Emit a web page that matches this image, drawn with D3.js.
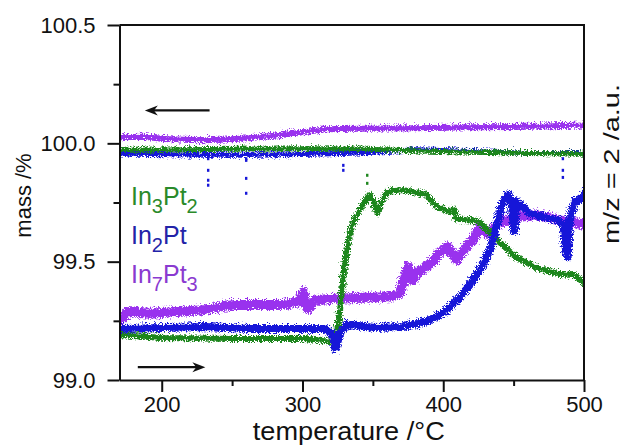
<!DOCTYPE html>
<html>
<head>
<meta charset="utf-8">
<script src="https://cdn.jsdelivr.net/npm/d3@7"></script>
<style>
  body { margin: 0; background: #fff; }
  svg { display: block; }
  text { font-family: "Liberation Sans", Arial, Helvetica, sans-serif; fill: #111; }
</style>
</head>
<body>
<svg id="chart" width="624" height="445"></svg>
<script>
// ---- data: thermogravimetry (mass, left axis) and m/z = 2 signal (right axis, a.u.) ----
const tempDomain = [170, 500];
const massDomain = [99.0, 100.5];
const msDomain = [0, 10];

const xMajorTicks = [200, 300, 400, 500];
const xMinorTicks = [250, 350, 450];
const yMajorTicks = [99.0, 99.5, 100.0, 100.5];
const yMinorTicks = [99.25, 99.75, 100.25];

const seriesNames = ["In3Pt2", "In2Pt", "In7Pt3"];
const seriesColors = ["#1e861e", "#1717d8", "#9933ee"];
const labelColors = ["#2a8a2a", "#2323a8", "#8a3ad0"];

// mass / % vs temperature / °C
const massIn7Pt3 = [[170,100.034],[185,100.036],[200,100.027],[215,100.024],[230,100.021],[245,100.025],
  [260,100.030],[275,100.038],[290,100.048],[305,100.060],[315,100.068],[340,100.070],[380,100.072],
  [420,100.076],[460,100.078],[500,100.084]];
const massIn3Pt2 = [[170,99.979],[200,99.980],[250,99.983],[300,99.986],[340,99.985],[380,99.976],
  [420,99.971],[460,99.966],[500,99.962]];
const massIn2Pt = [[170,99.963],[200,99.960],[230,99.958],[260,99.958],[290,99.960],[340,99.968],
  [380,99.981],[420,99.974],[460,99.966],[495,99.965]];

// isolated low readings in the mass traces
const massDipsIn2Pt = [[233,99.935],[233,99.886],[233,99.844],[233,99.823],[260,99.935],[260,99.928],
  [260,99.852],[260,99.789],[329,99.907],[329,99.886],[485,99.935],[485,99.886],[485,99.856]];
const massDipsIn3Pt2 = [[346,99.865],[346,99.831]];

// m/z = 2 ion signal / a.u.
const msIn3Pt2 = [[170,1.32],[200,1.24],[250,1.21],[300,1.21],[320,1.13],[322,1.10],[325,1.89],[328,3.10],
  [331,3.86],[334,4.42],[340,4.87],[346,5.27],[349,5.10],[352,4.75],[355,5.05],[359,5.35],[370,5.41],
  [387,5.27],[392,4.99],[402,4.79],[406,4.87],[408,4.59],[424,4.51],[437,4.00],[450,3.52],[467,3.18],
  [481,3.04],[492,3.01],[496,2.87],[500,2.73]];
const msIn2Pt = [[170,1.49],[200,1.52],[230,1.55],[260,1.49],[290,1.49],[315,1.49],[320,1.35],[322,0.93],
  [326,1.41],[330,1.61],[350,1.52],[370,1.55],[380,1.63],[390,1.75],[400,1.97],[412,2.45],[425,3.15],
  [432,3.72],[437,4.45],[441,5.07],[445,5.27],[447,5.13],[449,4.25],[451,5.07],[455,4.93],[460,4.73],
  [470,4.65],[480,4.56],[484,4.45],[486,3.66],[487,3.52],[489,4.65],[492,5.07],[496,5.13],[500,5.35]];
const msIn7Pt3 = [[170,1.77],[175,1.97],[190,1.92],[210,1.97],[230,2.03],[250,2.17],[270,2.17],[285,2.17],
  [296,2.25],[299,2.54],[301,2.20],[303,2.06],[308,2.31],[320,2.34],[340,2.37],[360,2.39],[368,2.48],
  [371,2.96],[374,3.24],[377,2.87],[381,3.10],[386,3.21],[392,3.44],[397,3.66],[402,3.80],[408,3.44],
  [415,3.80],[420,4.00],[425,4.37],[430,4.17],[438,4.45],[450,4.65],[465,4.70],[480,4.56],[490,4.51],
  [500,4.42]];

// heating direction arrows (temperature from/to, mass level)
const arrowMassLoss = { from: 234, to: 188, level: 100.139 };
const arrowHeating = { from: 183, to: 231, level: 99.054 };

// ---- layout ----
const svg = d3.select("#chart");
const plot = { left: 119.5, right: 584, top: 25, bottom: 380 };

const x = d3.scaleLinear(tempDomain, [plot.left, plot.right]);
const yMass = d3.scaleLinear(massDomain, [plot.bottom, plot.top]);
const yMs = d3.scaleLinear(msDomain, [plot.bottom, plot.top]);

const defs = svg.append("defs");
defs.append("clipPath").attr("id", "clip")
  .append("rect")
  .attr("x", plot.left).attr("y", plot.top)
  .attr("width", plot.right - plot.left).attr("height", plot.bottom - plot.top);

// grainy scatter look of the densely sampled measurement traces
const jitter = defs.append("filter").attr("id", "jitter")
  .attr("filterUnits", "userSpaceOnUse")
  .attr("x", 0).attr("y", 0).attr("width", 624).attr("height", 445);
jitter.append("feTurbulence")
  .attr("type", "turbulence").attr("baseFrequency", "0.55 0.8")
  .attr("numOctaves", 2).attr("seed", 7).attr("result", "noise");
jitter.append("feDisplacementMap")
  .attr("in", "SourceGraphic").attr("in2", "noise")
  .attr("scale", 7).attr("xChannelSelector", "R").attr("yChannelSelector", "G");

const clipped = svg.append("g").attr("clip-path", "url(#clip)");
const traces = clipped.append("g").attr("filter", "url(#jitter)");

function drawTrace(data, yScale, color, width) {
  const line = d3.line().x(d => x(d[0])).y(d => yScale(d[1]));
  traces.append("path")
    .datum(data)
    .attr("d", line)
    .attr("fill", "none")
    .attr("stroke", color)
    .attr("stroke-width", width)
    .attr("stroke-linejoin", "round")
    .attr("stroke-linecap", "round");
}

function drawDots(data, yScale, color) {
  clipped.selectAll(null).data(data).enter().append("rect")
    .attr("x", d => x(d[0]) - 1.2).attr("y", d => yScale(d[1]) - 1.5)
    .attr("width", 2.4).attr("height", 3).attr("fill", color);
}

// m/z = 2 traces
drawTrace(msIn7Pt3, yMs, seriesColors[2], 10);
drawTrace(msIn3Pt2, yMs, seriesColors[0], 6);
drawTrace(msIn2Pt, yMs, seriesColors[1], 8);

// mass traces
drawTrace(massIn2Pt, yMass, seriesColors[1], 5);
drawTrace(massIn3Pt2, yMass, seriesColors[0], 5);
drawTrace(massIn7Pt3, yMass, seriesColors[2], 6);
drawDots(massDipsIn2Pt, yMass, seriesColors[1]);
drawDots(massDipsIn3Pt2, yMass, seriesColors[0]);

// ---- axes ----
const axisFont = 22;

svg.append("g").attr("transform", `translate(0,${plot.bottom})`)
  .call(d3.axisBottom(x).tickValues(xMajorTicks).tickSize(12).tickSizeOuter(0).tickPadding(4)
    .tickFormat(d3.format("d")));
svg.append("g").attr("transform", `translate(0,${plot.bottom})`)
  .call(d3.axisBottom(x).tickValues(xMinorTicks).tickSize(6).tickSizeOuter(0).tickFormat(""))
  .select(".domain").remove();

svg.append("g").attr("transform", `translate(${plot.left},0)`)
  .call(d3.axisLeft(yMass).tickValues(yMajorTicks).tickSize(12).tickSizeOuter(0).tickPadding(12)
    .tickFormat(d3.format(".1f")));
svg.append("g").attr("transform", `translate(${plot.left},0)`)
  .call(d3.axisLeft(yMass).tickValues(yMinorTicks).tickSize(6).tickSizeOuter(0).tickFormat(""))
  .select(".domain").remove();

svg.selectAll(".domain, .tick line").attr("stroke", "#111").attr("stroke-width", 2);
svg.selectAll(".tick text")
  .attr("font-size", axisFont)
  .attr("font-family", '"Liberation Sans", Arial, sans-serif')
  .attr("fill", "#222");

// frame (top and right)
svg.append("path")
  .attr("d", `M${plot.left},${plot.top}H${plot.right}V${plot.bottom}`)
  .attr("fill", "none").attr("stroke", "#111").attr("stroke-width", 2);

// axis titles
svg.append("text")
  .attr("x", (plot.left + plot.right) / 2 - 3).attr("y", 440)
  .attr("text-anchor", "middle").attr("font-size", 25)
  .attr("textLength", 192).attr("lengthAdjust", "spacingAndGlyphs")
  .text("temperature /°C");

svg.append("text")
  .attr("transform", `translate(31,${(plot.top + plot.bottom) / 2 - 7}) rotate(-90)`)
  .attr("text-anchor", "middle").attr("font-size", 22)
  .text("mass /%");

svg.append("text")
  .attr("transform", `translate(619,164) rotate(-90)`)
  .attr("text-anchor", "middle").attr("font-size", 22)
  .attr("textLength", 160).attr("lengthAdjust", "spacingAndGlyphs")
  .text("m/z = 2 /a.u.");

// ---- arrows ----
function drawArrow(a, yScale) {
  const x0 = x(a.from), x1 = x(a.to), yy = yScale(a.level);
  const dir = Math.sign(x1 - x0);
  const head = 13, half = 5;
  svg.append("line")
    .attr("x1", x0).attr("y1", yy).attr("x2", x1 - dir * head * 0.6).attr("y2", yy)
    .attr("stroke", "#111").attr("stroke-width", 2.2);
  svg.append("path")
    .attr("d", `M${x1},${yy}L${x1 - dir * head},${yy - half}L${x1 - dir * head * 0.7},${yy}L${x1 - dir * head},${yy + half}Z`)
    .attr("fill", "#111");
}
drawArrow(arrowMassLoss, yMass);
drawArrow(arrowHeating, yMass);

// ---- legend ----
const legendParts = [["In", "3", "Pt", "2"], ["In", "2", "Pt", ""], ["In", "7", "Pt", "3"]];
const legend = svg.append("g").attr("transform", "translate(131,205)");
legendParts.forEach((parts, i) => {
  const t = legend.append("text")
    .attr("y", i * 39)
    .attr("font-size", 25)
    .style("fill", labelColors[i]);
  t.append("tspan").text(parts[0]);
  t.append("tspan").attr("dy", 8).attr("font-size", 20).text(parts[1]);
  t.append("tspan").attr("dy", -8).text(parts[2]);
  if (parts[3]) t.append("tspan").attr("dy", 8).attr("font-size", 20).text(parts[3]);
});
</script>
</body>
</html>
